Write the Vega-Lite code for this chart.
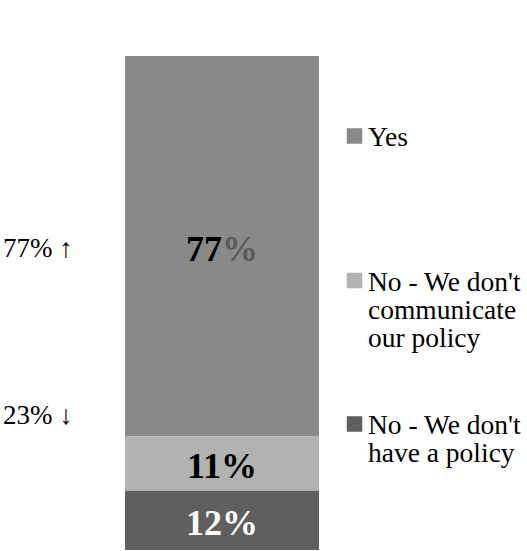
{
  "$schema": "https://vega.github.io/schema/vega-lite/v6.json",
  "width": 527,
  "height": 550,
  "padding": 0,
  "autosize": {"type": "none"},
  "background": "white",
  "config": {"view": {"stroke": null}, "font": "Liberation Serif"},
  "data": {
    "values": [
      {"group": "Total", "response": "Yes", "pct": 77, "rank": 3, "key_text": "Yes", "key_at": 83.81},
      {"group": "Total", "response": "No - We don't communicate our policy", "pct": 11, "rank": 2, "key_text": "No - We don't\ncommunicate\nour policy", "key_at": 54.55},
      {"group": "Total", "response": "No - We don't have a policy", "pct": 12, "rank": 1, "key_text": "No - We don't\nhave a policy", "key_at": 25.51}
    ]
  },
  "layer": [
    {
      "mark": {"type": "bar"},
      "encoding": {
        "x": {"field": "group", "type": "nominal", "axis": null,
              "scale": {"type": "band", "domain": ["note", "Total", "key"], "range": [-69, 513], "paddingInner": 0, "paddingOuter": 0}},
        "y": {"field": "pct", "type": "quantitative", "stack": "zero", "axis": null,
              "scale": {"domain": [0, 111.34], "nice": false, "zero": true}},
        "color": {"field": "response", "type": "nominal", "legend": null,
                  "scale": {"domain": ["Yes", "No - We don't communicate our policy", "No - We don't have a policy"],
                            "range": ["#898989", "#b2b2b2", "#5f5f5f"]}},
        "order": {"field": "rank", "type": "quantitative", "sort": "ascending"}
      }
    },
    {
      "transform": [
        {"stack": "pct", "groupby": ["group"], "sort": [{"field": "rank", "order": "ascending"}], "as": ["lo", "hi"]},
        {"calculate": "(datum.lo + datum.hi) / 2", "as": "mid"},
        {"calculate": "datum.pct + '%'", "as": "label"},
        {"filter": "datum.rank !== 3"}
      ],
      "mark": {"type": "text", "font": "Liberation Serif", "fontSize": 36, "fontWeight": "bold", "baseline": "middle", "align": "center", "dy": 3.5},
      "encoding": {
        "x": {"field": "group", "type": "nominal"},
        "y": {"field": "mid", "type": "quantitative"},
        "text": {"field": "label", "type": "nominal"},
        "color": {"condition": {"test": "datum.rank === 1", "value": "white"}, "value": "black"}
      }
    },
    {
      "transform": [
        {"stack": "pct", "groupby": ["group"], "sort": [{"field": "rank", "order": "ascending"}], "as": ["lo", "hi"]},
        {"calculate": "(datum.lo + datum.hi) / 2", "as": "mid"},
        {"filter": "datum.rank === 3"}
      ],
      "mark": {"type": "text", "font": "Liberation Serif", "fontSize": 36, "fontWeight": "bold", "baseline": "middle", "align": "right", "dy": 3.5, "color": "black"},
      "encoding": {
        "x": {"field": "group", "type": "nominal"},
        "y": {"field": "mid", "type": "quantitative"},
        "text": {"field": "pct", "type": "nominal"}
      }
    },
    {
      "transform": [
        {"stack": "pct", "groupby": ["group"], "sort": [{"field": "rank", "order": "ascending"}], "as": ["lo", "hi"]},
        {"calculate": "(datum.lo + datum.hi) / 2", "as": "mid"},
        {"filter": "datum.rank === 3"}
      ],
      "mark": {"type": "text", "font": "Liberation Serif", "fontSize": 36, "fontWeight": "bold", "baseline": "middle", "align": "left", "dy": 3.5, "color": "#595959"},
      "encoding": {
        "x": {"field": "group", "type": "nominal"},
        "y": {"field": "mid", "type": "quantitative"},
        "text": {"value": "%"}
      }
    },
    {
      "mark": {"type": "point", "shape": "square", "filled": true, "opacity": 1, "size": 240},
      "encoding": {
        "x": {"datum": "key", "type": "nominal", "bandPosition": 0.183},
        "y": {"field": "key_at", "type": "quantitative"},
        "color": {"field": "response", "type": "nominal"}
      }
    },
    {
      "mark": {"type": "text", "font": "Liberation Serif", "fontSize": 27.5, "align": "left", "baseline": "top", "dy": -12, "lineBreak": "\n", "lineHeight": 28, "color": "black"},
      "encoding": {
        "x": {"datum": "key", "type": "nominal", "bandPosition": 0.2526},
        "y": {"field": "key_at", "type": "quantitative"},
        "text": {"field": "key_text", "type": "nominal"}
      }
    },
    {
      "data": {"values": [
        {"note": "77% ↑", "at": 60.93},
        {"note": "23% ↓", "at": 27.13}
      ]},
      "mark": {"type": "text", "font": "Liberation Serif", "fontSize": 27, "align": "left", "baseline": "middle", "color": "black"},
      "encoding": {
        "x": {"datum": "note", "type": "nominal", "bandPosition": 0.371},
        "y": {"field": "at", "type": "quantitative"},
        "text": {"field": "note", "type": "nominal"}
      }
    }
  ]
}
